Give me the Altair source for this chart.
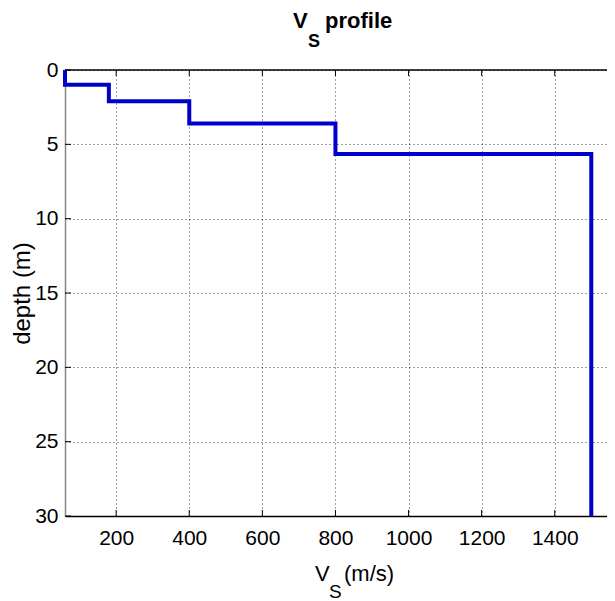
import altair as alt
import pandas as pd

# ---- data ----
layer_vs = [60, 180, 400, 800, 1500]          # shear-wave velocity of each layer (m/s)
layer_top = [0, 1.0, 2.1, 3.6, 5.65]          # top depth of each layer (m)
layer_bottom = [1.0, 2.1, 3.6, 5.65, 30]      # bottom depth of each layer (m)
x_ticks = [200, 400, 600, 800, 1000, 1200, 1400]
y_ticks = [0, 5, 10, 15, 20, 25, 30]
title_parts = ["V", "S", "profile"]
xtitle_parts = ["V", "S", "(m/s)"]
y_title = "depth (m)"

rows = []
k = 0
for v, t, b in zip(layer_vs, layer_top, layer_bottom):
    rows.append({"vs": v, "depth": t, "order": k}); k += 1
    rows.append({"vs": v, "depth": b, "order": k}); k += 1
profile = pd.DataFrame(rows)
xt = pd.DataFrame({"vs": x_ticks})
yt = pd.DataFrame({"depth": y_ticks})

W, H = 542, 446
FONT = "Liberation Sans, Arial, Helvetica, sans-serif"

xscale = alt.Scale(domain=[60, 1543], nice=False, zero=False)
yscale = alt.Scale(domain=[0, 30], reverse=True, nice=False, zero=False)

xaxis = alt.Axis(values=x_ticks, format="d", title=None, grid=True, gridDash=[1, 3],
                 gridColor="#000", gridOpacity=0.75, gridWidth=1, ticks=False,
                 domainColor="#000", domainWidth=1.5, labelFont=FONT,
                 labelFontSize=21, labelColor="#000", labelPadding=11,
                 labelFlush=False, labelOverlap=False)
yaxis = alt.Axis(values=y_ticks, format="d", title=y_title, grid=True, gridDash=[1, 3],
                 gridColor="#000", gridOpacity=0.75, gridWidth=1, ticks=False,
                 domainColor="#888", domainWidth=1.5, labelFont=FONT,
                 labelFontSize=21, labelColor="#000", labelPadding=7,
                 labelFlush=False, labelOverlap=False,
                 titleX=-43, titleY=H / 2, titleAngle=270, titleBaseline="middle",
                 titleAlign="center", titleFont=FONT, titleFontSize=24,
                 titleFontWeight="normal", titleColor="#000")

X = alt.X("vs:Q", scale=xscale, axis=xaxis)
Y = alt.Y("depth:Q", scale=yscale, axis=yaxis)

line = alt.Chart(profile).mark_line(color="#0000cc", strokeWidth=4).encode(
    x=X, y=Y, order="order:Q")

bot_ticks = alt.Chart(xt).mark_rule(color="#000", strokeWidth=1).encode(
    x=X, y=alt.value(H), y2=alt.value(H - 6))
top_ticks = alt.Chart(xt).mark_rule(color="#000", strokeWidth=1).encode(
    x=X, y=alt.value(0), y2=alt.value(6))
left_ticks = alt.Chart(yt).mark_rule(color="#000", strokeWidth=1).encode(
    y=Y, x=alt.value(0), x2=alt.value(6))
top_border = alt.Chart(yt.head(1)).mark_rule(color="#000", strokeWidth=1.5).encode(
    x=alt.value(0), x2=alt.value(W), y=alt.value(0))


def txt(s, x, y, size=21, weight="normal"):
    return alt.Chart(pd.DataFrame({"label": [s]})).mark_text(
        align="left", baseline="alphabetic", font=FONT, fontSize=size,
        fontWeight=weight, color="#000").encode(
        text="label:N", x=alt.value(x), y=alt.value(y))


title_layers = [
    txt(title_parts[0], 228, -42, 22, "bold"),
    txt(title_parts[1], 243, -23, 18, "bold"),
    txt(title_parts[2], 260, -42, 22, "bold"),
    txt(xtitle_parts[0], 250, 511, 22),
    txt(xtitle_parts[1], 264, 528, 19),
    txt(xtitle_parts[2], 279, 511, 22),
]

chart = alt.layer(line, bot_ticks, top_ticks, left_ticks, top_border, *title_layers).properties(
    width=W, height=H,
    autosize=alt.AutoSizeParams(type="none"),
    padding={"left": 57, "top": 62, "right": 0, "bottom": 85},
).configure_view(stroke=None)

chart.save("out.html", embed_options={"renderer": "svg", "actions": False})
